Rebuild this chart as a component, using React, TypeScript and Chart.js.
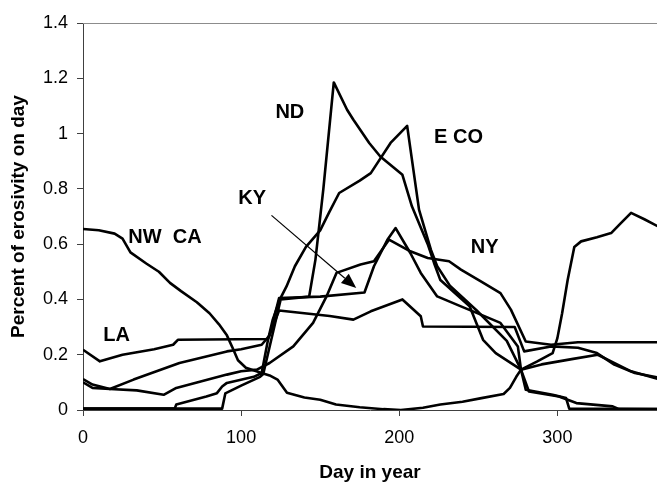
import React, { useEffect, useRef } from "react";
import { Chart, registerables } from "chart.js";

Chart.register(...registerables);

const X_TICKS = [0, 100, 200, 300];

const nwcaDays = [0, 10, 20, 25, 30, 40, 48, 55, 62, 72, 80, 86, 91, 95, 98, 103, 113, 118, 123, 129, 140, 150, 160, 175, 190, 201, 215, 226, 240, 252, 266, 270, 274, 277, 287, 297, 300, 303, 306.5, 310.7, 315, 325, 334, 340, 346.6, 355, 365];
const nwcaVals = [0.655, 0.65, 0.638, 0.62, 0.57, 0.53, 0.5, 0.46, 0.43, 0.39, 0.35, 0.31, 0.27, 0.22, 0.18, 0.153, 0.134, 0.125, 0.11, 0.062, 0.045, 0.037, 0.02, 0.01, 0.003, 0, 0.008, 0.02, 0.03, 0.043, 0.058, 0.08, 0.12, 0.146, 0.175, 0.206, 0.26, 0.35, 0.47, 0.59, 0.61, 0.625, 0.64, 0.675, 0.713, 0.69, 0.66];

const laDays = [0, 10.7, 25, 45, 57, 60, 117, 124, 156, 171, 182, 202, 213.6, 215, 273, 279, 296, 313, 325, 336, 349, 365];
const laVals = [0.218, 0.176, 0.2, 0.22, 0.236, 0.254, 0.257, 0.36, 0.34, 0.327, 0.357, 0.4, 0.339, 0.302, 0.3, 0.212, 0.23, 0.225, 0.206, 0.164, 0.134, 0.116];

const kyDays = [0, 6, 17, 32, 61, 91, 100, 113, 118, 124, 150, 178, 184, 192.5, 197.7, 207, 213.6, 224, 239, 251.6, 264, 275, 277, 290, 310, 325.5, 334, 346.6, 365];
const kyVals = [0.112, 0.092, 0.076, 0.11, 0.17, 0.212, 0.22, 0.236, 0.27, 0.405, 0.41, 0.425, 0.52, 0.616, 0.658, 0.568, 0.496, 0.411, 0.375, 0.345, 0.315, 0.23, 0.146, 0.165, 0.185, 0.2, 0.176, 0.14, 0.11];

const nyDays = [0, 6, 17, 34, 51, 59, 91, 100, 110, 118, 133, 145.5, 154, 160.3, 175.5, 184, 193.5, 207, 218, 231.5, 239, 251.6, 264, 270.6, 280, 296, 313, 365];
const nyVals = [0.1, 0.08, 0.076, 0.071, 0.055, 0.08, 0.128, 0.14, 0.146, 0.17, 0.23, 0.315, 0.411, 0.496, 0.526, 0.538, 0.616, 0.574, 0.55, 0.538, 0.508, 0.465, 0.423, 0.363, 0.248, 0.236, 0.245, 0.245];

const ndDays = [0, 88, 90, 100, 112, 114, 125, 143, 147, 152, 158.6, 167, 171, 181, 188, 202, 208, 218, 222, 226, 244.5, 253, 261, 277, 280, 297, 305.5, 307.5, 365];
const ndVals = [0.005, 0.005, 0.06, 0.088, 0.12, 0.13, 0.4, 0.41, 0.544, 0.8, 1.185, 1.086, 1.05, 0.966, 0.917, 0.851, 0.737, 0.6, 0.532, 0.47, 0.375, 0.254, 0.206, 0.146, 0.073, 0.055, 0.043, 0.005, 0.003];

const ecoDays = [0, 58, 59, 78, 84.7, 88, 91, 108, 113, 117, 120, 124.5, 128.7, 134, 141, 150, 155.5, 162, 175, 182, 194.5, 205, 212.5, 220, 224, 232, 249, 268, 277, 282, 301, 312, 335, 339, 365];
const ecoVals = [0.005, 0.005, 0.02, 0.049, 0.061, 0.085, 0.098, 0.12, 0.134, 0.254, 0.327, 0.4, 0.447, 0.52, 0.59, 0.65, 0.713, 0.785, 0.83, 0.857, 0.966, 1.028, 0.725, 0.58, 0.52, 0.45, 0.36, 0.25, 0.146, 0.067, 0.049, 0.025, 0.013, 0.003, 0.003];

const SERIES_NAMES = ["NW CA", "LA", "KY", "NY", "ND", "E CO"];
const SERIES_DAYS = [nwcaDays, laDays, kyDays, nyDays, ndDays, ecoDays];
const SERIES_VALS = [nwcaVals, laVals, kyVals, nyVals, ndVals, ecoVals];

const labelTexts = ["ND", "E CO", "KY", "NW  CA", "NY", "LA"];
const labelDays = [130.8, 237.5, 107, 51.8, 254, 21.2];
const labelVals = [1.075, 0.987, 0.765, 0.625, 0.587, 0.27];

const arrowFrom = [119.2, 0.704];
const arrowTo = [172.8, 0.441];

const FONT = '"Liberation Sans", Arial, Helvetica, sans-serif';

const overlayPlugin = {
  id: "overlay",
  afterDatasetsDraw(chart: any) {
    const { ctx, chartArea, scales } = chart;
    const xs = scales.x;
    const ys = scales.y;
    ctx.save();
    // top border
    ctx.strokeStyle = "#8c8c8c";
    ctx.lineWidth = 1;
    ctx.beginPath();
    ctx.moveTo(chartArea.left, Math.round(chartArea.top) + 0.5);
    ctx.lineTo(chartArea.right, Math.round(chartArea.top) + 0.5);
    ctx.stroke();

    // labels
    ctx.fillStyle = "#000";
    ctx.font = `bold 20px ${FONT}`;
    ctx.textAlign = "center";
    ctx.textBaseline = "middle";
    labelTexts.forEach((t, i) => {
      ctx.fillText(t, xs.getPixelForValue(labelDays[i]), ys.getPixelForValue(labelVals[i]));
    });

    // arrow
    const x1 = xs.getPixelForValue(arrowFrom[0]);
    const y1 = ys.getPixelForValue(arrowFrom[1]);
    const x2 = xs.getPixelForValue(arrowTo[0]);
    const y2 = ys.getPixelForValue(arrowTo[1]);
    const ang = Math.atan2(y2 - y1, x2 - x1);
    const headLen = 15;
    const headW = 6;
    const bx = x2 - headLen * Math.cos(ang);
    const by = y2 - headLen * Math.sin(ang);
    ctx.strokeStyle = "#000";
    ctx.lineWidth = 1.2;
    ctx.beginPath();
    ctx.moveTo(x1, y1);
    ctx.lineTo(bx, by);
    ctx.stroke();
    ctx.beginPath();
    ctx.moveTo(x2, y2);
    ctx.lineTo(bx + headW * Math.sin(ang), by - headW * Math.cos(ang));
    ctx.lineTo(bx - headW * Math.sin(ang), by + headW * Math.cos(ang));
    ctx.closePath();
    ctx.fill();
    ctx.restore();
  },
};

export default function App() {
  const ref = useRef<HTMLCanvasElement | null>(null);

  useEffect(() => {
    document.body.style.margin = "0";
    const canvas = ref.current;
    if (!canvas) return;
    const datasets = SERIES_NAMES.map((name, i) => ({
      label: name,
      data: SERIES_DAYS[i].map((d, j) => ({ x: d, y: SERIES_VALS[i][j] })),
      showLine: true,
      borderColor: "#000",
      backgroundColor: "#000",
      borderWidth: 2.6,
      pointRadius: 0,
      pointHoverRadius: 0,
      tension: 0,
      fill: false,
      borderJoinStyle: "round" as const,
    }));

    const chart = new Chart(canvas, {
      type: "scatter",
      data: { datasets },
      plugins: [overlayPlugin],
      options: {
        animation: false,
        responsive: false,
        devicePixelRatio: 1,
        layout: { padding: { top: 23, right: 0, left: 0, bottom: 0 } },
        plugins: { legend: { display: false }, tooltip: { enabled: false } },
        scales: {
          x: {
            type: "linear",
            min: 0,
            max: 363,
            afterBuildTicks: (s: any) => {
              s.ticks = X_TICKS.map((v) => ({ value: v }));
            },
            afterFit: (s: any) => {
              s.height = 75;
            },
            grid: { drawOnChartArea: false, drawTicks: true, tickLength: 6, color: "#404040" },
            border: { color: "#404040", width: 1 },
            ticks: {
              color: "#000",
              font: { family: FONT, size: 18 },
              padding: 11,
              maxRotation: 0,
              callback: (v: any) => String(v),
            },
            title: {
              display: true,
              text: "Day in year",
              color: "#000",
              font: { family: FONT, size: 19, weight: "bold" },
              padding: { top: 0, bottom: 1 },
            },
          },
          y: {
            type: "linear",
            min: 0,
            max: 1.4,
            afterFit: (s: any) => {
              s.width = 83;
            },
            grid: { drawOnChartArea: false, drawTicks: true, tickLength: 6, color: "#404040" },
            border: { color: "#404040", width: 1 },
            ticks: {
              stepSize: 0.2,
              color: "#000",
              font: { family: FONT, size: 18 },
              padding: 9,
              callback: (v: any) => String(Math.round(Number(v) * 10) / 10),
            },
            title: {
              display: true,
              text: "Percent of erosivity on day",
              color: "#000",
              font: { family: FONT, size: 19, weight: "bold" },
              padding: { top: 7, bottom: 0 },
            },
          },
        },
      },
    });
    return () => chart.destroy();
  }, []);

  return (
    <div style={{ width: 657, height: 485 }}>
      <canvas ref={ref} width={657} height={485} style={{ display: "block" }} />
    </div>
  );
}
